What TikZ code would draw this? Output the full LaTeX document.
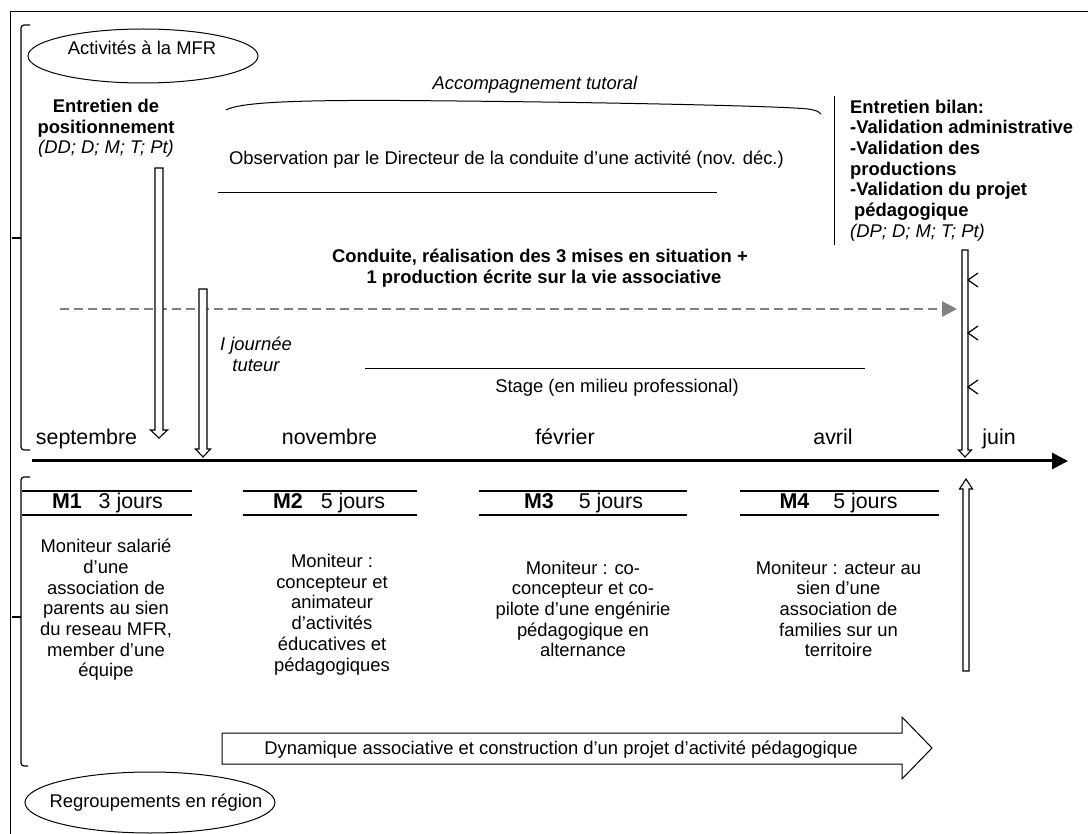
\documentclass[tikz,border=0pt]{standalone}
\usepackage{fontspec}
\setmainfont{Liberation Sans}
\usetikzlibrary{shapes.geometric,arrows.meta}
\definecolor{dashgray}{RGB}{128,128,128}

% hollow block arrow along a vertical axis:
% #1 axis x, #2 tail y, #3 head base y, #4 tip y, #5 shaft half width, #6 head half width
\newcommand{\hollowvarrow}[6]{%
  \draw[hollow] (#1-#5,#2) -- (#1-#5,#3) -- (#1-#6,#3) -- (#1,#4)
    -- (#1+#6,#3) -- (#1+#5,#3) -- (#1+#5,#2) -- cycle;}

\begin{document}
\begin{tikzpicture}[x=1pt,y=-1pt,
  txt/.style={inner sep=0pt, font=\fontsize{18.4}{20.7}\selectfont, align=center},
  bodyleft/.style={inner sep=0pt, font=\fontsize{18.4}{20.7}\selectfont, align=left},
  month/.style={inner sep=0pt, anchor=base, font=\fontsize{21.4}{24}\selectfont},
  modlabel/.style={inner sep=0pt, font=\fontsize{21.4}{24}\selectfont},
  hollow/.style={draw=black, fill=white, line width=1.1pt, line join=miter},
  thin/.style={line width=1pt},
  bracket/.style={line width=1.2pt, rounded corners=3pt},
  modline/.style={line width=2pt},
  oval/.style={ellipse, draw, line width=1pt, inner sep=0pt},
]
\useasboundingbox (0,0) rectangle (1088,834);
\fill[white] (0,0) rectangle (1088,834);

% outer frame
\draw[thin] (1088,12) -- (10,12) -- (10,834);

% brackets grouping the two halves
\draw[bracket] (30,25) -- (21,25) -- (21,450) -- (30,450);
\draw[line width=1.2pt] (21,238) -- (12,238);
\draw[bracket] (30,477) -- (21,477) -- (21,766) -- (28,766);
\draw[line width=1.2pt] (21,617) -- (12,617);

% section labels
\node[oval, minimum width=230pt, minimum height=54pt] (mfr) at (143,56) {};
\node[txt] (mfrtext) at (142,48) {Activités à la MFR};
\node[oval, minimum width=250pt, minimum height=61pt] (reg) at (150,802.5) {};
\node[txt] (regtext) at (156,803) {Regroupements en région};

% positioning interview
\node[txt] (posit) at (106,128.5) {\textbf{Entretien de}\\\textbf{positionnement}\\\textit{(DD; D; M; T; Pt)}};

% tutoring
\node[txt, font=\fontsize{18.4}{20.7}\selectfont\itshape] (tutor) at (535,85) {Accompagnement tutoral};
\draw[thin] (226,110) .. controls (240,102) and (300,100) .. (400,100.5)
  .. controls (600,102) and (780,106) .. (808,109)
  .. controls (815,110) and (818,111) .. (821,114);

\node[txt] (observ) at (506.5,160) {Observation par le Directeur de la conduite d’une activité (nov. déc.)};
\coordinate (obsL) at (218,193);
\coordinate (obsR) at (717,193);
\draw[thin] (obsL) -- (obsR);

% final interview
\draw[thin] (834,96) -- (834,245);
\node[bodyleft, anchor=west] (bilan) at (850,170.5) {\textbf{Entretien bilan:}\\\textbf{-Validation administrative}\\\textbf{-Validation des}\\\textbf{productions}\\\textbf{-Validation du projet}\\\hspace*{4pt}\textbf{pédagogique}\\\textit{(DP; D; M; T; Pt)}};

% practical work
\node[txt, font=\fontsize{18.4}{20.7}\selectfont\bfseries] (conduite) at (540,268) {Conduite, réalisation des 3 mises en situation +\\\hspace*{8pt}1 production écrite sur la vie associative};
\coordinate (dashL) at (60,309);
\coordinate (dashR) at (957,309);
\draw[dashgray, line width=2.5pt, dash pattern=on 9pt off 5pt,
  -{Triangle[length=15pt,width=15pt]}] (dashL) -- (dashR);

\node[txt, font=\fontsize{18.4}{20.7}\selectfont\itshape] (journee) at (256,354.5) {I journée\\tuteur};

\coordinate (stageL) at (365,369);
\coordinate (stageR) at (865,369);
\draw[thin] (stageL) -- (stageR);
\node[txt] (stage) at (617,388) {Stage (en milieu professional)};

% event arrows
\hollowvarrow{159}{168}{430}{438}{4}{8.5}
\hollowvarrow{203}{289}{449}{457}{4}{7.5}
\hollowvarrow{965}{250}{450}{457}{3}{6.5}
\hollowvarrow{966}{671}{489}{479}{3}{6.5}
\foreach \yy in {280,333,387}
  \draw[line width=1.2pt] (978,\yy-7) -- (968,\yy) -- (978,\yy+7);

% timeline
\coordinate (tl0) at (32,461);
\coordinate (tl1) at (1068,461);
\draw[line width=3pt, -{Triangle[length=16pt,width=16pt]}] (tl0) -- (tl1);
\node[month] (sep) at (86.5,445) {septembre};
\node[month] (nov) at (329.5,445) {novembre};
\node[month] (feb) at (565,445) {février};
\node[month] (apr) at (833,445) {avril};
\node[month] (jun) at (999,445) {juin};

% modules
\draw[modline] (22,491) -- (192,491) (22,515) -- (192,515);
\draw[modline] (243,491) -- (417,491) (243,515) -- (417,515);
\draw[modline] (479,491) -- (687,491) (479,515) -- (687,515);
\draw[modline] (740,491) -- (939,491) (740,515) -- (939,515);
\node[modlabel] (m1) at (107.5,503) {\textbf{M1}\hspace{17pt}3 jours};
\node[modlabel] (m2) at (329,503) {\textbf{M2}\hspace{18pt}5 jours};
\node[modlabel] (m3) at (583.5,503) {\textbf{M3}\hspace{25pt}5 jours};
\node[modlabel] (m4) at (838.5,503) {\textbf{M4}\hspace{24pt}5 jours};

\node[txt] (d1) at (106,610) {Moniteur salarié\\d’une\\association de\\parents au sien\\du reseau MFR,\\member d’une\\équipe};
\node[txt] (d2) at (332,614.5) {Moniteur :\\concepteur et\\animateur\\d’activités\\éducatives et\\pédagogiques};
\node[txt] (d3) at (583,609) {Moniteur : co-\\concepteur et co-\\pilote d’une engénirie\\pédagogique en\\alternance};
\node[txt] (d4) at (838.5,609) {Moniteur : acteur au\\sien d’une\\association de\\families sur un\\territoire};

% project arrow
\draw[line width=1pt, fill=white, line join=miter] (222,733) -- (902,733) -- (902,717) -- (932,748)
  -- (902,779) -- (902,764) -- (222,764) -- cycle;
\node[txt] (dyn) at (561,750) {Dynamique associative et construction d’un projet d’activité pédagogique};
\end{tikzpicture}
\end{document}
